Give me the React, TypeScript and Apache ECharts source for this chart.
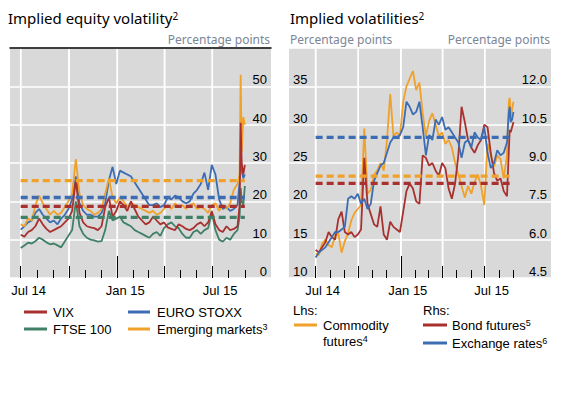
import React, { useEffect, useRef } from "react";
import * as echarts from "echarts";

// Day offsets from 1 July 2014
const days = [0, 7, 14, 21, 28, 35, 42, 49, 56, 63, 70, 77, 84, 91, 98, 105, 112, 119, 126, 133, 140, 147, 154, 161, 168, 175, 182, 189, 196, 203, 210, 217, 224, 231, 238, 245, 252, 259, 266, 273, 280, 287, 294, 301, 308, 315, 322, 329, 336, 343, 350, 357, 364, 371, 378, 385, 392, 399, 406, 413, 417, 419, 421, 424, 427];

// Left panel: implied equity volatility
const vix = [11.3, 10.8, 12.0, 12.5, 13.5, 15.5, 14.0, 12.8, 12.0, 12.5,
  13.0, 13.5, 14.5, 15.5, 17.5, 25.5, 17.0, 14.5, 13.5, 13.2,
  13.0, 12.5, 13.5, 18.5, 21.0, 16.0, 17.5, 20.0, 19.0, 17.5,
  20.0, 18.0, 16.0, 15.0, 14.0, 14.5, 16.0, 15.0, 14.0, 14.5,
  13.2, 12.8, 12.5, 14.0, 13.5, 12.8, 12.5, 13.0, 14.0, 14.5,
  13.5, 14.5, 17.5, 14.0, 12.5, 12.0, 13.5, 12.5, 12.8, 13.5,
  19.0, 40.5, 30.0, 27.0, 29.5];
const ftse = [7.8, 8.5, 9.2, 9.0, 9.6, 10.5, 10.0, 9.3, 8.8, 9.0,
  8.5, 8.0, 9.5, 11.0, 12.5, 20.0, 13.5, 11.5, 10.5, 10.0,
  9.8, 9.5, 9.6, 12.5, 17.5, 15.0, 15.5, 16.0, 14.5, 14.0,
  13.5, 12.5, 12.0, 11.5, 11.0, 10.5, 11.5, 12.0, 11.0, 13.0,
  14.0, 14.5, 13.5, 13.0, 11.5, 10.5, 10.5, 12.0, 12.5, 11.5,
  12.5, 13.0, 17.0, 12.5, 10.0, 9.5, 10.5, 10.0, 11.5, 12.5,
  16.0, 23.5, 20.0, 19.0, 24.0];
const euroStoxx = [12.6, 13.5, 14.5, 15.0, 17.0, 18.0, 16.5, 15.5, 14.5, 15.0,
  14.0, 15.5, 16.5, 18.0, 20.5, 26.5, 19.5, 17.5, 16.5, 16.5,
  16.0, 16.0, 17.0, 19.5, 25.5, 29.0, 24.5, 28.0, 27.5, 27.0,
  26.5, 25.0, 23.5, 22.0, 20.5, 19.0, 19.0, 19.5, 18.5, 19.0,
  21.0, 20.5, 21.5, 21.0, 20.0, 19.5, 20.0, 22.0, 23.0, 24.5,
  27.5, 23.0, 29.5, 27.0, 20.5, 18.0, 18.5, 17.5, 18.0, 19.0,
  25.0, 33.0, 28.0, 26.0, 27.0];
const emerging = [14.0, 13.5, 15.5, 15.0, 19.0, 21.5, 19.5, 18.0, 16.5, 17.5,
  16.5, 17.0, 18.5, 20.0, 22.0, 31.0, 22.0, 19.0, 18.0, 17.5,
  16.5, 17.0, 18.0, 22.0, 26.0, 21.0, 19.5, 21.0, 20.0, 18.5,
  19.5, 19.0, 18.5, 18.0, 17.5, 17.0, 17.5, 16.5, 17.0, 18.0,
  19.0, 18.0, 19.5, 18.5, 19.0, 18.0, 19.0, 19.5, 18.0, 18.5,
  18.0, 17.0, 19.0, 19.5, 17.5, 19.0, 18.0, 19.5, 23.0, 24.5,
  27.0, 53.0, 33.0, 42.0, 40.0];

// Right panel: implied volatilities
const commodity = [13.2, 13.0, 14.5, 15.0, 14.3, 14.0, 15.5, 15.8, 13.3, 14.8,
  15.8, 17.5, 18.5, 19.0, 19.5, 29.5, 21.0, 21.5, 23.5, 24.0,
  25.0, 24.0, 28.0, 34.0, 28.5, 29.0, 28.5, 33.0, 35.0, 36.0,
  37.0, 34.5, 35.5, 31.5, 28.5, 30.5, 31.5, 30.0, 28.5, 29.0,
  27.5, 28.0, 27.0, 25.0, 23.5, 22.0, 20.5, 22.0, 21.0, 22.5,
  23.5, 22.0, 19.5, 27.5, 26.0, 24.5, 26.0, 25.5, 23.0, 26.0,
  33.0, 33.5, 31.0, 32.0, 33.0];
const bondFutures = [5.6, 5.5, 5.7, 5.9, 6.3, 6.1, 6.0, 6.8, 7.1, 6.3,
  6.2, 6.3, 6.1, 6.2, 6.4, 9.2, 7.4, 7.0, 6.6, 6.5,
  7.3, 6.2, 6.0, 6.7, 6.5, 6.4, 6.3, 7.1, 7.9, 8.2,
  8.0, 7.5, 7.4, 9.3, 9.2, 8.9, 9.0, 8.7, 8.5, 9.0,
  8.8, 8.0, 7.6, 8.2, 9.3, 11.2, 10.6, 9.9, 9.6, 9.4,
  9.7, 9.9, 10.5, 10.4, 9.4, 8.6, 8.3, 8.4, 7.9, 7.7,
  9.5, 10.3, 10.2, 10.4, 10.6];
const exchangeRates = [5.3, 5.5, 5.6, 5.7, 5.9, 6.1, 6.3, 6.3, 6.4, 6.5,
  7.6, 7.7, 7.6, 7.8, 7.4, 7.6, 7.2, 7.4, 8.3, 8.6,
  8.9, 9.0, 9.4, 9.8, 10.0, 10.0, 10.1, 10.4, 11.4, 11.2,
  10.9, 11.0, 11.4, 10.4, 9.3, 10.1, 9.9, 10.7, 10.5, 10.8,
  10.3, 10.4, 10.2, 10.0, 9.8, 9.2, 9.8, 9.9, 9.6, 10.2,
  10.0, 9.9, 10.4, 9.4, 8.8, 9.0, 9.5, 9.3, 9.4, 9.8,
  11.0, 11.2, 10.6, 10.7, 11.0];

// Long-term averages (dashed)
const equityAverages = [18.7, 15.8, 21.0, 25.4]; // VIX, FTSE 100, EURO STOXX, Emerging markets
const commodityAverage = 23.3;
const bondAverage = 8.2;
const fxAverage = 10.0;

// Axes
const monthTicks = [0, 31, 62, 92, 123, 153, 184, 215, 243, 274, 304, 335, 365, 396, 427];
const quarterTicks = [0, 92, 184, 274, 365];
const yearTicks = [184];
const xLabelDays = [15, 199, 380];
const xLabels = ["Jul 14", "Jan 15", "Jul 15"];

const RED = "#a8312f";
const BLUE = "#3c6db3";
const ORANGE = "#f0a12a";
const GREEN = "#3f8067";
const GRIDLINE = "#ffffff";
const NUM_FONT = "Liberation Sans, Arial, sans-serif";
const TITLE_FONT = "Noto Sans, sans-serif";
const UNIT_COLOR = "#7b8696";

export default function App() {
  const ref = useRef<HTMLDivElement>(null);
  useEffect(() => {
    if (!ref.current) return;
    const chart = echarts.init(ref.current, undefined, { renderer: "svg" });

    const pairs = (vals: number[]) => days.map((d, i) => [d, vals[i]]);
    const lineSeries = (name: string, vals: number[], color: string, xi: number, yi: number, z = 11) => ({
      type: "line", name, xAxisIndex: xi, yAxisIndex: yi, data: pairs(vals),
      symbol: "none", showSymbol: false, z,
      lineStyle: { color, width: 1.8 }, itemStyle: { color },
    });
    const avgSeries = (value: number, color: string, xi: number, yi: number) => ({
      type: "line", xAxisIndex: xi, yAxisIndex: yi, z: 12,
      data: [[days[0], value], [days[days.length - 1], value]],
      symbol: "none", showSymbol: false,
      lineStyle: { color, width: 3.3, type: [7, 4] }, itemStyle: { color },
    });
    // vertical white gridlines at quarter starts, drawn as thin filled rectangles through the axis scales
    const gridRects = (xi: number, yi: number, lo: number, hi: number) => ({
      type: "custom", xAxisIndex: xi, yAxisIndex: yi, z: 10,
      data: quarterTicks.map((d) => [d, hi]),
      encode: { x: 0, y: 1 },
      renderItem: (_p: any, api: any) => {
        const d = api.value(0);
        const a = api.coord([d, lo]);
        const b = api.coord([d, hi]);
        return {
          type: "rect",
          shape: { x: a[0] - 0.75, y: b[1], width: 1.5, height: a[1] - b[1] },
          style: { fill: GRIDLINE },
        };
      },
    });
    // second mechanism: thin white bars at the same quarter starts
    const gridBars = (xi: number, yi: number, hi: number) => ({
      type: "bar", xAxisIndex: xi, yAxisIndex: yi, z: 10, barWidth: 1.5,
      data: quarterTicks.map((d) => [d, hi]),
      itemStyle: { color: GRIDLINE, borderWidth: 0 },
    });

    const L_MIN = -20.4, L_MAX = 476.8;
    const R_MIN = -57.5, R_MAX = 508;

    const monthAxis = (gridIndex: number, min: number, max: number) => ({
      type: "value", gridIndex, min, max, position: "bottom", z: 13,
      axisLine: { show: false, onZero: false },
      axisTick: { show: true, inside: true, length: 8, customValues: monthTicks, lineStyle: { color: "#000", width: 1 } },
      axisLabel: {
        show: true, customValues: xLabelDays, margin: 6, color: "#000", fontSize: 13, fontFamily: NUM_FONT,
        formatter: (v: number) => xLabels[xLabelDays.indexOf(v)] ?? "",
      },
      splitLine: { show: false },
    });
    const quarterAxis = (gridIndex: number, min: number, max: number) => ({
      type: "value", gridIndex, min, max, position: "bottom", z: 13,
      axisLine: { show: false, onZero: false },
      axisTick: { show: true, inside: true, length: 12, customValues: quarterTicks, lineStyle: { color: "#000", width: 1 } },
      axisLabel: { show: false },
      splitLine: { show: false },
    });
    const yearAxis = (gridIndex: number, min: number, max: number) => ({
      type: "value", gridIndex, min, max, position: "bottom", z: 13,
      axisLine: { show: false, onZero: false },
      axisTick: { show: true, inside: true, length: 22, customValues: yearTicks, lineStyle: { color: "#000", width: 1 } },
      axisLabel: { show: false },
      splitLine: { show: false },
    });

    const yLabel = (extra: any = {}) => ({
      inside: true, verticalAlign: "bottom", margin: 4, color: "#000", fontSize: 13, fontFamily: NUM_FONT,
      showMaxLabel: false, ...extra,
    });

    const sup = { fontSize: 9, verticalAlign: "top", fill: "#000", fontFamily: NUM_FONT, lineHeight: 13 };
    const titleSup = { fontSize: 10, verticalAlign: "top", fill: "#000", fontFamily: TITLE_FONT, lineHeight: 14 };
    const text = (x: number, y: number, t: string, opts: any = {}) => ({
      type: "text", x, y, silent: true,
      style: {
        text: t, fill: "#000", fontSize: 13, fontFamily: NUM_FONT,
        align: "left", textAlign: "left", verticalAlign: "middle", textVerticalAlign: "middle",
        rich: { s: sup }, ...opts,
      },
    });
    const legendLine = (x1: number, x2: number, y: number, color: string) => ({
      type: "line", silent: true, shape: { x1, y1: y, x2, y2: y }, style: { stroke: color, lineWidth: 3 },
    });

    chart.setOption({
      animation: false,
      grid: [
        { left: 10, top: 48, width: 261, height: 230, show: true, backgroundColor: "#d9d9d9", borderWidth: 0 },
        { left: 289, top: 48, width: 262, height: 230, show: true, backgroundColor: "#d9d9d9", borderWidth: 0 },
      ],
      xAxis: [
        monthAxis(0, L_MIN, L_MAX),
        quarterAxis(0, L_MIN, L_MAX),
        yearAxis(0, L_MIN, L_MAX),
        {
          type: "value", gridIndex: 0, min: L_MIN, max: L_MAX, position: "top", z: 13,
          axisLine: { show: true, onZero: false, lineStyle: { color: "#000", width: 1.5 } },
          axisTick: { show: false }, axisLabel: { show: false }, splitLine: { show: false },
        },
        monthAxis(1, R_MIN, R_MAX),
        quarterAxis(1, R_MIN, R_MAX),
        yearAxis(1, R_MIN, R_MAX),
      ],
      yAxis: [
        {
          type: "value", gridIndex: 0, position: "right", min: 0, max: 60, interval: 10,
          axisLine: { show: false }, axisTick: { show: false },
          axisLabel: yLabel(),
          splitLine: { show: true, lineStyle: { color: "#ffffff", width: 1.5 } },
        },
        {
          type: "value", gridIndex: 1, position: "left", min: 10, max: 40, interval: 5,
          axisLine: { show: false }, axisTick: { show: false },
          axisLabel: yLabel(),
          splitLine: { show: true, lineStyle: { color: "#ffffff", width: 1.5 } },
        },
        {
          type: "value", gridIndex: 1, position: "right", min: 4.5, max: 13.5, interval: 1.5,
          axisLine: { show: false }, axisTick: { show: false },
          axisLabel: yLabel({ formatter: (v: number) => v.toFixed(1) }),
          splitLine: { show: false },
        },
      ],
      series: [
        gridRects(0, 0, 0, 60),
        gridRects(4, 1, 10, 40),
        gridBars(1, 0, 60),
        gridBars(5, 1, 40),
        lineSeries("FTSE 100", ftse, GREEN, 0, 0),
        lineSeries("EURO STOXX", euroStoxx, BLUE, 0, 0),
        lineSeries("Emerging markets", emerging, ORANGE, 0, 0),
        lineSeries("VIX", vix, RED, 0, 0),
        avgSeries(equityAverages[0], RED, 0, 0),
        avgSeries(equityAverages[1], GREEN, 0, 0),
        avgSeries(equityAverages[2], BLUE, 0, 0),
        avgSeries(equityAverages[3], ORANGE, 0, 0),
        lineSeries("Commodity futures", commodity, ORANGE, 4, 1),
        lineSeries("Bond futures", bondFutures, RED, 4, 2),
        lineSeries("Exchange rates", exchangeRates, BLUE, 4, 2),
        avgSeries(fxAverage, BLUE, 4, 2),
        avgSeries(commodityAverage, ORANGE, 4, 1),
        avgSeries(bondAverage, RED, 4, 2),
      ],
      graphic: [
        text(8, 18, "Implied equity volatility{t|2}", { fontSize: 15, fontFamily: TITLE_FONT, rich: { t: titleSup } }),
        text(290, 18, "Implied volatilities{t|2}", { fontSize: 15, fontFamily: TITLE_FONT, rich: { t: titleSup } }),
        text(270, 39, "Percentage points", { fontSize: 12, fontFamily: TITLE_FONT, fill: UNIT_COLOR, align: "right", textAlign: "right" }),
        text(290, 39, "Percentage points", { fontSize: 12, fontFamily: TITLE_FONT, fill: UNIT_COLOR }),
        text(550, 39, "Percentage points", { fontSize: 12, fontFamily: TITLE_FONT, fill: UNIT_COLOR, align: "right", textAlign: "right" }),
        // left legend
        legendLine(24, 47, 312, RED),
        text(53, 312, "VIX"),
        legendLine(128, 150, 312, BLUE),
        text(157, 312, "EURO STOXX"),
        legendLine(24, 47, 329, GREEN),
        text(53, 329, "FTSE 100"),
        legendLine(128, 150, 329, ORANGE),
        text(157, 329, "Emerging markets{s|3}"),
        // right legend
        text(293, 310, "Lhs:"),
        legendLine(294, 317, 325, ORANGE),
        text(323, 325, "Commodity"),
        text(323, 341, "futures{s|4}"),
        text(423, 310, "Rhs:"),
        legendLine(423, 447, 325, RED),
        text(452, 325, "Bond futures{s|5}"),
        legendLine(423, 447, 343, BLUE),
        text(452, 343, "Exchange rates{s|6}"),
      ],
    });
    return () => chart.dispose();
  }, []);
  return <div ref={ref} style={{ position: "absolute", left: 0, top: 0, width: 580, height: 394, background: "#fff" }} />;
}
